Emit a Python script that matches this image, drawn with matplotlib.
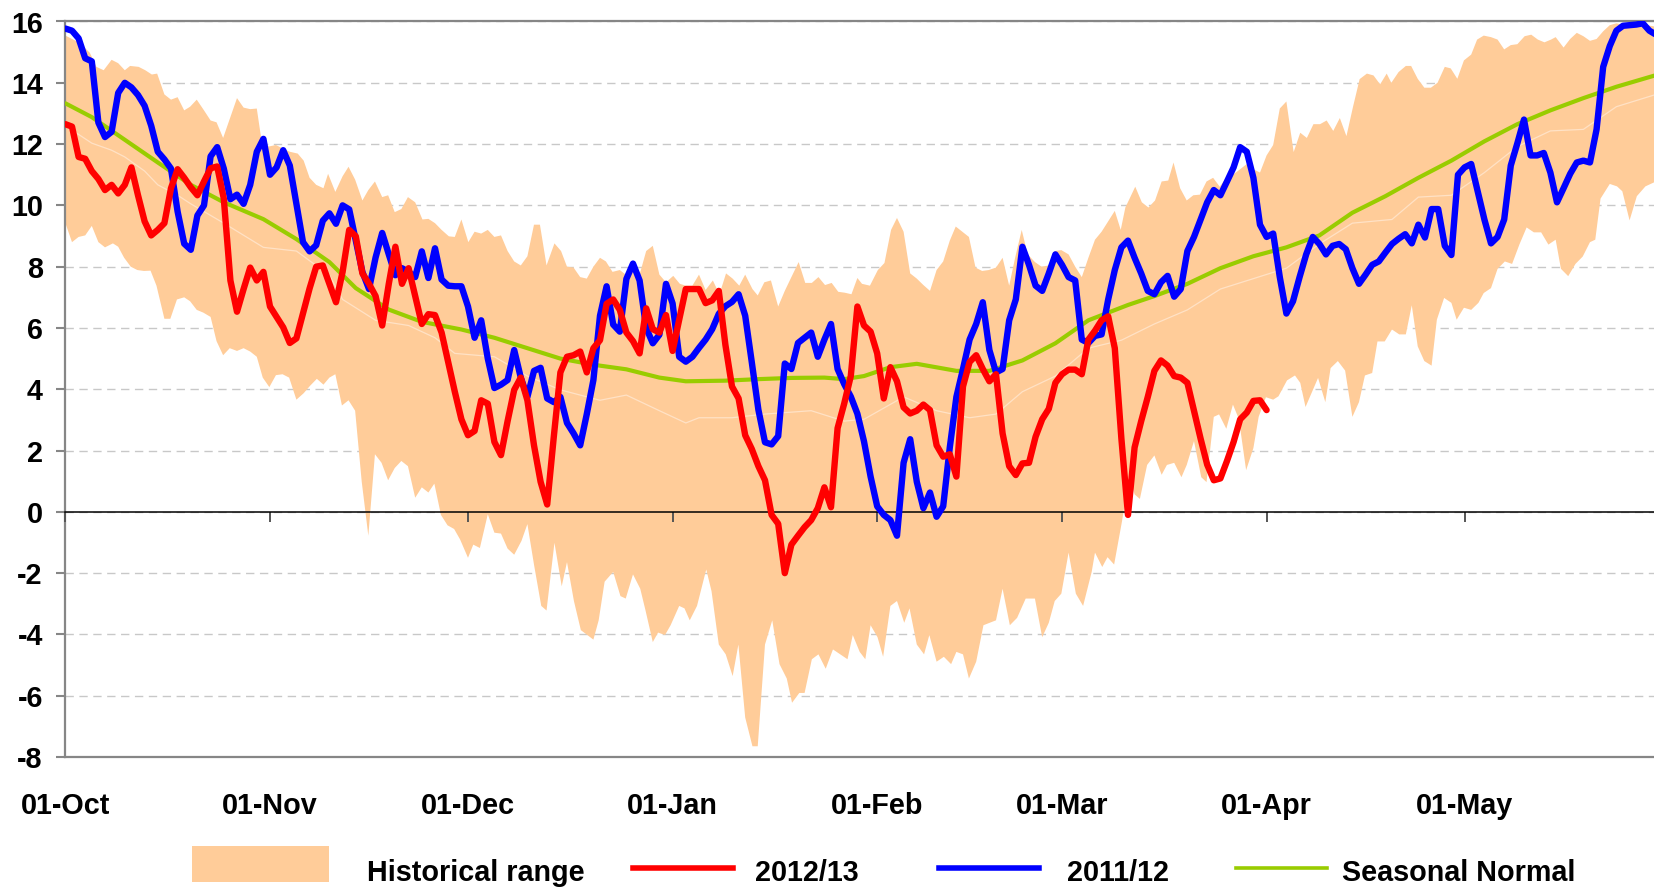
import numpy as np
import matplotlib
matplotlib.use("Agg")
import matplotlib.pyplot as plt
from matplotlib.patches import Rectangle
from matplotlib.lines import Line2D

plt.rcParams['font.family'] = ['Liberation Sans', 'DejaVu Sans']
plt.rcParams['font.weight'] = 'bold'

# ---------------- data ----------------
month_ticks = [0, 31, 61, 92, 123, 151, 182, 212]
month_labels = ['01-Oct', '01-Nov', '01-Dec', '01-Jan', '01-Feb', '01-Mar', '01-Apr', '01-May']
y_ticks = [-8, -6, -4, -2, 0, 2, 4, 6, 8, 10, 12, 14, 16]

# 2011/12, one value per day starting 01-Oct
blue_2011 = [
    15.77, 15.7, 15.45, 14.8, 14.7, 12.7, 12.23, 12.4, 13.67, 14.0,
    13.85, 13.6, 13.25, 12.6, 11.75, 11.5, 11.2, 9.8, 8.75, 8.55,
    9.67, 10.0, 11.6, 11.9, 11.2, 10.2, 10.35, 10.05, 10.67, 11.75,
    12.17, 11.0, 11.24, 11.8, 11.3, 10.05, 8.8, 8.5, 8.7, 9.5,
    9.74, 9.4, 10.0, 9.87, 8.85, 7.83, 7.27, 8.3, 9.1, 8.4,
    7.72, 7.95, 7.83, 7.66, 8.5, 7.63, 8.6, 7.58, 7.38, 7.36,
    7.36, 6.7, 5.68, 6.25, 5.0, 4.04, 4.15, 4.3, 5.28, 4.38,
    3.75, 4.6, 4.7, 3.7, 3.58, 3.75, 2.9, 2.56, 2.17, 3.19,
    4.3, 6.4, 7.36, 6.11, 5.88, 7.6, 8.1, 7.55, 6.0, 5.5,
    5.78, 7.44, 6.8, 5.06, 4.9, 5.06, 5.35, 5.62, 5.96, 6.46,
    6.71, 6.85, 7.1, 6.4, 4.88, 3.33, 2.27, 2.2, 2.47, 4.84,
    4.66, 5.51, 5.68, 5.85, 5.06, 5.62, 6.13, 4.66, 4.17, 3.76,
    3.2, 2.3, 1.15, 0.18, -0.1, -0.27, -0.78, 1.6, 2.37, 0.98,
    0.12, 0.63, -0.16, 0.18, 2.1, 3.75, 4.66, 5.62, 6.13, 6.84,
    5.28, 4.55, 4.66, 6.25, 6.93, 8.65, 8.06, 7.38, 7.21, 7.78,
    8.4, 8.06, 7.66, 7.55, 5.62, 5.51, 5.74, 5.79, 6.93, 7.89,
    8.63, 8.85, 8.29, 7.78, 7.21, 7.1, 7.49, 7.7, 7.02, 7.27,
    8.51, 8.97, 9.54, 10.1, 10.5, 10.33, 10.78, 11.24, 11.9, 11.75,
    10.9, 9.37, 8.97, 9.08, 7.66, 6.47, 6.87, 7.66, 8.4, 8.97,
    8.74, 8.4, 8.68, 8.74, 8.57, 7.95, 7.44, 7.74, 8.06, 8.17,
    8.46, 8.74, 8.91, 9.06, 8.76, 9.37, 8.95, 9.88, 9.88, 8.68,
    8.38, 11.0, 11.24, 11.35, 10.44, 9.54, 8.76, 8.97, 9.54, 11.3,
    12.03, 12.8, 11.63, 11.63, 11.71, 11.07, 10.1, 10.56, 11.03, 11.4,
    11.46, 11.4, 12.48, 14.52, 15.2, 15.7, 15.86, 15.88, 15.9, 15.94,
    15.7, 15.57,
]

# 2012/13, one value per day starting 01-Oct
red_2012 = [
    12.65, 12.57, 11.58, 11.52, 11.12, 10.86, 10.5, 10.67, 10.39, 10.67,
    11.24, 10.33, 9.48, 9.02, 9.2, 9.42, 10.56, 11.18, 10.9, 10.59,
    10.33, 10.78, 11.21, 11.27, 10.22, 7.55, 6.53, 7.27, 7.97, 7.55,
    7.83, 6.7, 6.36, 6.02, 5.51, 5.66, 6.47, 7.29, 8.0, 8.04,
    7.44, 6.84, 7.83, 9.2, 8.99, 7.78, 7.44, 7.04, 6.08, 7.44,
    8.65, 7.44, 7.95, 7.04, 6.13, 6.45, 6.42, 5.85, 4.89, 3.92,
    3.02, 2.5, 2.64, 3.64, 3.53, 2.28, 1.85, 2.96, 3.98, 4.38,
    3.64, 2.17, 0.98, 0.24, 2.45, 4.55, 5.06, 5.11, 5.23, 4.55,
    5.34, 5.6, 6.79, 6.93, 6.59, 5.85, 5.57, 5.17, 6.64, 5.96,
    5.85, 6.42, 5.25, 6.27, 7.27, 7.27, 7.27, 6.81, 6.9, 7.21,
    5.45, 4.09, 3.7, 2.5, 2.05, 1.49, 1.03, -0.1, -0.39, -2.0,
    -1.07, -0.78, -0.5, -0.27, 0.12, 0.8, 0.15, 2.73, 3.53, 4.43,
    6.7, 6.08, 5.88, 5.17, 3.7, 4.72, 4.26, 3.41, 3.21, 3.3,
    3.5, 3.32, 2.17, 1.8, 1.88, 1.15, 4.09, 4.89, 5.11, 4.66,
    4.26, 4.49, 2.56, 1.49, 1.2, 1.58, 1.6, 2.45, 3.02, 3.36,
    4.21, 4.49, 4.64, 4.64, 4.49, 5.62, 5.91, 6.25, 6.38, 5.34,
    2.39, -0.1, 2.1, 2.96, 3.75, 4.6, 4.94, 4.77, 4.43, 4.38,
    4.21, 3.3, 2.39, 1.54, 1.03, 1.09, 1.66, 2.28, 3.02, 3.24,
    3.62, 3.64, 3.32,
]

# Seasonal normal (day, value)
normal_days = [0, 4, 9, 14, 19, 24, 30, 35, 40, 44, 49, 54, 60, 65, 70, 75, 80, 85, 90, 94,
               100, 105, 110, 115, 118, 121, 125, 129, 135, 140, 145, 150, 155, 161, 165,
               170, 175, 180, 185, 190, 195, 200, 205, 210, 215, 220, 225, 230, 235, 241]
normal_vals = [13.33, 12.88, 12.14, 11.4, 10.67, 10.1, 9.55, 8.9, 8.15, 7.3, 6.6, 6.2, 5.95,
               5.68, 5.34, 5.0, 4.8, 4.65, 4.38, 4.26, 4.28, 4.33, 4.37, 4.38, 4.33, 4.43,
               4.72, 4.83, 4.6, 4.6, 4.94, 5.5, 6.25, 6.75, 7.04, 7.44, 7.95, 8.34, 8.63,
               9.02, 9.76, 10.3, 10.9, 11.46, 12.09, 12.65, 13.1, 13.5, 13.87, 14.25]

# Faint historical average line inside the band (day, value)
avg_days = [0, 4, 7, 9, 12, 14, 17, 19, 24, 30, 35, 40, 42, 47, 52, 56, 59, 65, 70, 75, 81,
            85, 90, 94, 96, 101, 106, 113, 118, 121, 127, 132, 137, 141, 145, 150, 155, 160,
            165, 170, 175, 180, 185, 190, 195, 201, 205, 210, 215, 220, 225, 230, 235, 241]
avg_vals = [12.6, 12.03, 11.8, 11.58, 11.12, 10.67, 10.33, 10.05, 9.42, 8.63, 8.51, 7.72,
            6.93, 6.25, 6.08, 5.68, 5.17, 5.06, 4.43, 3.98, 3.64, 3.81, 3.3, 2.9, 3.07, 3.07,
            3.19, 3.3, 2.96, 3.02, 3.75, 3.3, 3.07, 3.19, 3.92, 4.43, 5.34, 5.6, 6.13, 6.59,
            7.27, 7.61, 7.95, 8.74, 9.42, 9.54, 10.27, 10.33, 11.07, 11.92, 12.43, 12.48,
            13.22, 13.62]

# Historical range: upper edge (day, value)
upper_days = [0, 2.2, 3.7, 4.7, 5.8, 7.0, 8.0, 9.0, 9.8, 11.1, 12.1, 13.1, 13.9, 15.0, 16.0,
              17.0, 18.0, 18.9, 19.9, 21.0, 22.0, 22.9, 23.9, 24.9, 26.0, 27.0, 28.0, 29.0,
              29.7, 30.8, 31.9, 32.9, 34.0, 35.2, 36.1, 37.0, 38.0, 39.1, 39.8, 40.9, 42.0,
              42.9, 43.9, 45.0, 45.9, 46.9, 48.0, 48.9, 49.9, 50.9, 51.9, 53.0, 54.1, 55.0,
              56.0, 57.0, 58.1, 59.0, 60.0, 61.05, 62.0, 63.0, 64.0, 65.0, 66.0, 67.0, 68.0,
              69.0, 70.0, 71.0, 71.9, 72.9, 74.1, 75.1, 76.0, 77.0, 78.0, 79.0, 80.0, 81.0,
              81.9, 82.9, 84.0, 84.9, 86.0, 87.0, 88.0, 89.0, 90.0, 91.0, 92.1, 93.1, 94.0,
              95.0, 96.0, 97.0, 98.1, 99.1, 100.1, 101.1, 102.1, 103.0, 104.1, 104.9, 105.9,
              106.9, 108.0, 109.0, 110.0, 111.1, 112.1, 113.1, 114.1, 115.1, 116.1, 117.1,
              118.1, 119.1, 120.0, 120.7, 121.9, 123.1, 124.1, 125.1, 126.0, 127.0, 128.0,
              129.0, 130.0, 131.0, 132.0, 133.0, 134.0, 134.9, 135.9, 136.9, 137.9, 138.9,
              139.9, 141.0, 142.0, 143.0, 143.9, 144.9, 145.8, 146.9, 147.9, 149.0, 149.9,
              150.9, 152.0, 153.0, 154.0, 155.0, 156.0, 157.0, 158.0, 159.0, 159.9, 160.6,
              161.2, 162.1, 163.1, 164.1, 165.1, 166.1, 167.1, 167.9, 168.9, 169.9, 170.9,
              171.9, 172.9, 173.9, 174.9, 175.9, 176.9, 178.0, 179.0, 180.0, 181.0, 182.0,
              183.0, 184.0, 185.0, 186.1, 187.1, 188.1, 189.1, 190.1, 191.1, 192.1, 193.1,
              194.1, 195.1, 196.1, 197.2, 198.2, 199.2, 200.2, 200.9, 202.0, 203.1, 203.9,
              204.9, 205.9, 206.9, 207.9, 209.0, 209.9, 210.9, 211.9, 213.0, 213.9, 214.9,
              216.0, 217.0, 218.0, 219.0, 220.0, 221.1, 222.1, 223.1, 224.1, 225.1, 225.8,
              227.0, 228.0, 229.0, 230.0, 231.0, 232.0, 233.0, 234.0, 235.0, 235.9, 237.1,
              238.3, 239.6, 241]
upper_vals = [15.54, 15.3, 14.98, 14.52, 14.41, 14.75, 14.64, 14.41, 14.55, 14.52, 14.41,
              14.27, 14.3, 13.62, 13.45, 13.53, 13.1, 13.22, 13.45, 13.1, 12.77, 12.71, 12.2,
              12.82, 13.5, 13.19, 13.14, 13.16, 12.14, 11.92, 11.97, 11.86, 11.75, 11.69,
              11.46, 10.9, 10.67, 10.56, 11.03, 10.44, 10.95, 11.26, 10.84, 10.16, 10.5,
              10.78, 10.27, 10.33, 9.78, 9.88, 10.27, 10.1, 9.54, 9.56, 9.42, 9.2, 8.99, 8.97,
              9.54, 8.8, 9.14, 9.08, 9.2, 8.97, 9.02, 8.51, 8.17, 8.04, 8.34, 9.37, 9.37, 8.04,
              8.76, 8.51, 8.0, 7.97, 7.66, 7.61, 8.0, 8.29, 8.17, 7.83, 7.89, 7.74, 8.15, 7.74,
              8.51, 8.68, 7.74, 7.49, 7.7, 7.44, 7.38, 7.38, 7.74, 7.24, 7.55, 7.1, 7.78, 7.61,
              7.38, 7.74, 7.27, 7.06, 7.49, 7.55, 6.7, 7.21, 7.66, 8.15, 7.47, 7.47, 7.66,
              7.4, 7.47, 7.18, 7.15, 7.1, 7.63, 7.44, 7.38, 7.89, 8.12, 9.2, 9.59, 9.14, 7.78,
              7.61, 7.4, 7.21, 7.89, 8.17, 8.85, 9.31, 9.14, 8.97, 7.97, 7.86, 7.89, 7.97,
              8.29, 7.38, 8.29, 9.2, 8.4, 8.15, 8.0, 8.04, 8.51, 8.54, 8.4, 8.0, 7.66, 8.29,
              8.88, 9.14, 9.48, 9.82, 9.2, 9.93, 10.2, 10.61, 10.1, 9.93, 10.16, 10.78, 10.81,
              11.4, 10.56, 10.16, 10.33, 10.35, 10.78, 10.9, 10.61, 10.9, 11.0, 11.18, 11.35,
              11.18, 11.07, 11.63, 11.97, 13.16, 13.39, 11.74, 12.37, 12.2, 12.65, 12.65,
              12.77, 12.43, 12.85, 12.26, 13.22, 14.12, 14.3, 14.24, 13.95, 14.3, 14.0, 14.35,
              14.55, 14.55, 14.13, 13.84, 13.84, 14.0, 14.52, 14.47, 14.13, 14.73, 14.92,
              15.41, 15.54, 15.49, 15.41, 15.09, 15.23, 15.26, 15.52, 15.57, 15.41, 15.32,
              15.41, 15.49, 15.15, 15.43, 15.63, 15.52, 15.37, 15.43, 15.68, 15.88, 15.94,
              15.9, 16.0, 16.0, 15.88, 15.83]

# Historical range: lower edge (day, value)
lower_days = [0, 1.0, 2.0, 3.0, 4.0, 5.0, 6.0, 7.2, 8.0, 8.9, 9.9, 10.9, 11.9, 12.9, 13.8,
              15.0, 15.9, 16.9, 18.0, 18.9, 19.9, 20.9, 22.0, 22.9, 23.9, 24.9, 26.0, 27.0,
              28.0, 29.0, 29.9, 30.9, 31.9, 32.9, 33.9, 35.0, 36.1, 37.1, 38.1, 39.1, 40.0,
              40.9, 41.9, 42.9, 43.9, 44.9, 45.9, 46.9, 47.9, 48.9, 49.9, 50.9, 51.9, 53.0,
              54.0, 55.0, 55.9, 56.9, 57.9, 58.9, 59.8, 61.0, 61.8, 62.8, 64.0, 65.0, 66.0,
              67.0, 68.0, 69.1, 70.0, 71.0, 72.1, 72.9, 74.1, 75.2, 76.0, 77.05, 78.1, 80.0,
              80.8, 81.7, 83.0, 84.1, 84.9, 86.0, 87.1, 87.9, 89.0, 89.8, 90.85, 91.7, 93.0,
              93.8, 94.6, 95.7, 97.1, 97.9, 99.0, 100.05, 101.1, 101.97, 103.0, 104.1, 104.9,
              106.0, 107.1, 108.2, 109.3, 110.1, 111.2, 112.0, 113.1, 114.1, 115.2, 116.3,
              117.4, 118.5, 119.3, 120.35, 121.2, 122.0, 123.05, 123.9, 125.0, 126.0, 127.1,
              127.9, 129.0, 130.1, 130.9, 132.0, 133.1, 134.2, 135.0, 136.0, 136.9, 138.0,
              139.1, 141.0, 142.0, 143.1, 144.2, 145.5, 146.9, 148.0, 149.0, 149.9, 150.9,
              152.0, 153.1, 154.2, 155.5, 156.0, 157.1, 157.9, 158.9, 160.1, 161.2, 162.0,
              162.8, 163.9, 165.0, 166.1, 166.9, 168.0, 169.1, 169.9, 171.0, 172.1, 172.9,
              174.0, 174.8, 175.9, 176.9, 177.8, 178.9, 180.0, 180.8, 181.9, 183.0, 183.8,
              185.1, 186.3, 187.1, 187.9, 189.0, 189.8, 190.9, 191.7, 192.8, 193.9, 195.0,
              196.0, 196.9, 198.0, 198.8, 199.9, 201.0, 202.1, 203.1, 204.0, 204.9, 205.9,
              207.0, 207.8, 208.9, 210.0, 210.8, 211.9, 213.0, 214.1, 214.9, 216.0, 217.0,
              218.1, 219.2, 220.3, 221.4, 222.5, 223.6, 224.7, 225.8, 226.6, 227.7, 228.8,
              229.9, 231.0, 231.8, 232.6, 234.0, 235.1, 235.9, 237.0, 238.1, 239.4, 241]
lower_vals = [9.42, 8.8, 8.97, 9.02, 9.33, 8.8, 8.63, 8.76, 8.65, 8.29, 8.0, 7.89, 7.86, 7.87,
              7.38, 6.3, 6.3, 6.93, 7.0, 6.87, 6.59, 6.5, 6.36, 5.57, 5.11, 5.34, 5.25, 5.34,
              5.23, 5.06, 4.38, 4.07, 4.46, 4.49, 4.38, 3.66, 3.87, 4.12, 4.34, 4.15, 4.38,
              4.49, 3.47, 3.64, 3.3, 0.98, -0.78, 1.88, 1.6, 1.03, 1.43, 1.66, 1.49, 0.46, 0.8,
              0.63, 0.92, -0.1, -0.44, -0.56, -0.9, -1.5, -1.07, -1.18, -0.08, -0.68, -0.71,
              -1.2, -1.4, -0.95, -0.4, -1.72, -3.07, -3.22, -1.01, -2.43, -1.64, -2.91, -3.86,
              -4.17, -3.54, -2.28, -1.96, -2.75, -2.83, -2.04, -2.51, -3.22, -4.25, -3.94,
              -4.02, -3.7, -3.07, -3.15, -3.54, -3.07, -1.88, -2.59, -4.33, -4.65, -5.36,
              -4.33, -6.71, -7.65, -7.65, -4.33, -3.54, -4.97, -5.44, -6.23, -5.91, -5.91,
              -4.81, -4.65, -5.12, -4.49, -4.65, -4.81, -4.02, -4.57, -4.81, -3.7, -4.09,
              -4.73, -3.07, -2.91, -3.62, -3.15, -4.33, -4.65, -4.02, -4.89, -4.73, -4.97,
              -4.57, -4.65, -5.44, -4.89, -3.7, -3.54, -2.51, -3.7, -3.46, -2.83, -2.83, -4.09,
              -3.62, -2.91, -2.67, -1.33, -2.67, -3.07, -1.96, -1.33, -1.8, -1.48, -1.72, -0.3,
              1.21, 0.57, 0.42, 1.53, 1.84, 1.21, 1.53, 1.6, 1.13, 1.53, 2.31, 1.13, 0.97, 3.1,
              3.18, 2.71, 3.5, 3.03, 1.36, 2.08, 3.1, 3.74, 3.66, 3.77, 4.29, 4.45, 4.21, 3.42,
              3.97, 4.37, 3.58, 4.69, 4.92, 4.61, 3.1, 3.58, 4.45, 4.53, 5.56, 5.56, 5.95,
              5.79, 5.79, 6.74, 5.4, 4.92, 4.77, 6.27, 6.98, 6.82, 6.27, 6.66, 6.59, 6.82,
              7.14, 7.3, 7.93, 8.17, 8.09, 8.72, 9.28, 9.12, 9.12, 8.72, 8.88, 7.93, 7.69,
              8.09, 8.33, 8.8, 8.88, 10.22, 10.7, 10.62, 10.46, 9.51, 10.3, 10.62, 10.78]

legend_names = ['Historical range', '2012/13', '2011/12', 'Seasonal Normal']

# ---------------- styles ----------------
BAND = '#FFCC99'
RED = '#FF0000'
BLUE = '#0000FF'
GREEN = '#99CC00'
SPINE = '#868686'
FS = 20.7

W, H = 1654, 888
fig = plt.figure(figsize=(W / 100, H / 100), dpi=100)
ax_l, ax_top, ax_bot = 65.4, 21.5, 757.0
ax = fig.add_axes([ax_l / W, 1 - ax_bot / H, 1 - ax_l / W, (ax_bot - ax_top) / H])

ax.set_xlim(0, 240.7)
ax.set_ylim(-8, 16)

# band
band_x = np.concatenate([upper_days, lower_days[::-1]])
band_y = np.concatenate([upper_vals, lower_vals[::-1]])
ax.fill(band_x, band_y, color=BAND, lw=0, zorder=1)

ax.plot(avg_days, avg_vals, color='#FFE2C6', lw=0.9, zorder=1.2)

ax.plot(normal_days, normal_vals, color=GREEN, lw=3.0, zorder=3,
        solid_joinstyle='round', solid_capstyle='round')
ax.plot(np.arange(len(blue_2011)), blue_2011, color=BLUE, lw=4.6, zorder=4,
        solid_joinstyle='round', solid_capstyle='round')
ax.plot(np.arange(len(red_2012)), red_2012, color=RED, lw=4.6, zorder=5,
        solid_joinstyle='round', solid_capstyle='round')

# grid
ax.set_axisbelow(True)
ax.set_yticks(y_ticks)
ax.yaxis.grid(True, color='#C8C8C8', linestyle=(0, (6, 4)), lw=1.0)
ax.set_yticklabels([str(v) for v in y_ticks], fontsize=FS, fontweight='bold')
ax.tick_params(axis='y', direction='out', length=6.7, width=1.5, color=SPINE, pad=9.6)

ax.set_xticks(month_ticks)
ax.set_xticklabels(month_labels, fontsize=FS, fontweight='bold')
ax.tick_params(axis='x', length=0, pad=25.5)

for side in ['top', 'bottom', 'left']:
    ax.spines[side].set_color(SPINE)
    ax.spines[side].set_linewidth(1.6)
ax.spines['right'].set_visible(False)

# zero line with its tick marks
sec = ax.secondary_xaxis(8 / 24)
sec.set_xticks(month_ticks)
sec.tick_params(axis='x', direction='out', length=7.2, width=1.4, color='#555555',
                labelbottom=False, labeltop=False)
for s in sec.spines.values():
    s.set_color('black')
    s.set_linewidth(1.1)
sec.set_zorder(2.5)

# legend (manual layout in figure pixels)
def fx(px):
    return px / W

def fy(py):
    return 1 - py / H

fig.patches.append(Rectangle((fx(192), fy(882)), fx(329) - fx(192), (882 - 846) / H,
                             transform=fig.transFigure, facecolor=BAND, edgecolor='none'))
base = fy(881)
fig.text(fx(367), base, legend_names[0], fontsize=FS, fontweight='bold', va='baseline', ha='left')
fig.lines.append(Line2D([fx(633), fx(733)], [fy(868), fy(868)], transform=fig.transFigure,
                        color=RED, lw=4.0))
fig.text(fx(755), base, legend_names[1], fontsize=FS, fontweight='bold', va='baseline', ha='left')
fig.lines.append(Line2D([fx(939), fx(1039)], [fy(868), fy(868)], transform=fig.transFigure,
                        color=BLUE, lw=4.0))
fig.text(fx(1067), base, legend_names[2], fontsize=FS, fontweight='bold', va='baseline', ha='left')
fig.lines.append(Line2D([fx(1236), fx(1327)], [fy(868), fy(868)], transform=fig.transFigure,
                        color=GREEN, lw=2.6))
fig.text(fx(1342), base, legend_names[3], fontsize=FS, fontweight='bold', va='baseline', ha='left')

fig.savefig('out.png', dpi=100)
